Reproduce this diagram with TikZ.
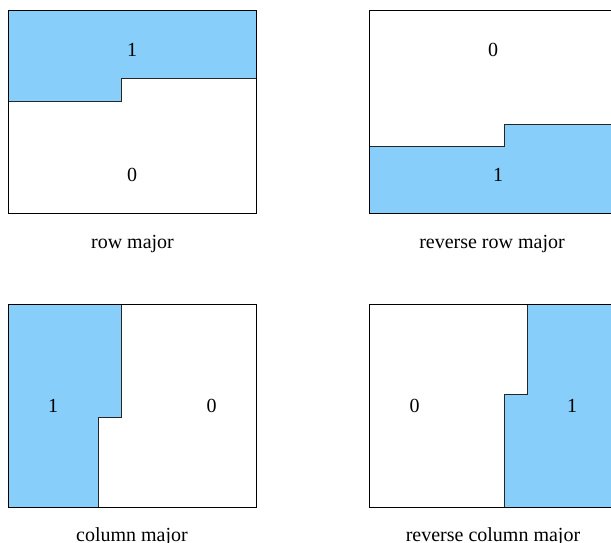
\documentclass[tikz,border=0pt]{standalone}
\usepackage{fontspec}
\setmainfont{Liberation Serif}
\usetikzlibrary{positioning}
\definecolor{skyblue}{RGB}{135,206,250}
\tikzset{
  region/.style={fill=skyblue,draw=black!85,line width=0.8pt},
  frame/.style={draw=black,line width=1pt},
  digit/.style={font=\fontsize{20}{24}\selectfont,inner sep=0pt},
  caption/.style={font=\fontsize{20}{24}\selectfont,inner sep=0pt,anchor=base}
}

\begin{document}
\begin{tikzpicture}[x=1pt,y=-1pt]
      \useasboundingbox (0,0) rectangle (611,543);
      % row major
      \begin{scope}
        \draw[region] (8,10.7) -- (256,10.7) -- (256,78.7) -- (121,78.7)
          -- (121,101) -- (8,101) -- cycle;
        \draw[frame] (8,10.7) rectangle (256,213.3);
        \node[digit] (rowone) at (132,50) {1};
        \node[digit] (rowzero) at (132,174.5) {0};
        \node[caption] (rowcap) at (132.5,248.5) {row major};
      \end{scope}
      % reverse row major
      \begin{scope}[xshift=361.3pt]
        \draw[region] (8,146) -- (143,146) -- (143,124) -- (256,124)
          -- (256,213.3) -- (8,213.3) -- cycle;
        \draw[frame] (8,10.7) rectangle (256,213.3);
        \node[digit] (revrowzero) at (131.7,50) {0};
        \node[digit] (revrowone) at (136.7,174.5) {1};
        \node[caption] (revrowcap) at (130.7,248.5) {reverse row major};
      \end{scope}
      % column major
      \begin{scope}[yshift=-294pt]
        \draw[region] (8,10.7) -- (121,10.7) -- (121,123) -- (98.3,123)
          -- (98.3,213.3) -- (8,213.3) -- cycle;
        \draw[frame] (8,10.7) rectangle (256,213.3);
        \node[digit] (colone) at (53,112) {1};
        \node[digit] (colzero) at (211.5,112) {0};
        \node[caption] (colcap) at (132,247) {column major};
      \end{scope}
      % reverse column major
      \begin{scope}[xshift=361.3pt,yshift=-294pt]
        \draw[region] (166,10.7) -- (256,10.7) -- (256,213.3) -- (143,213.3)
          -- (143,100.3) -- (166,100.3) -- cycle;
        \draw[frame] (8,10.7) rectangle (256,213.3);
        \node[digit] (revcolzero) at (53.2,112) {0};
        \node[digit] (revcolone) at (210.7,112) {1};
        \node[caption] (revcolcap) at (131.7,247) {reverse column major};
      \end{scope}
    \end{tikzpicture}
\end{document}
